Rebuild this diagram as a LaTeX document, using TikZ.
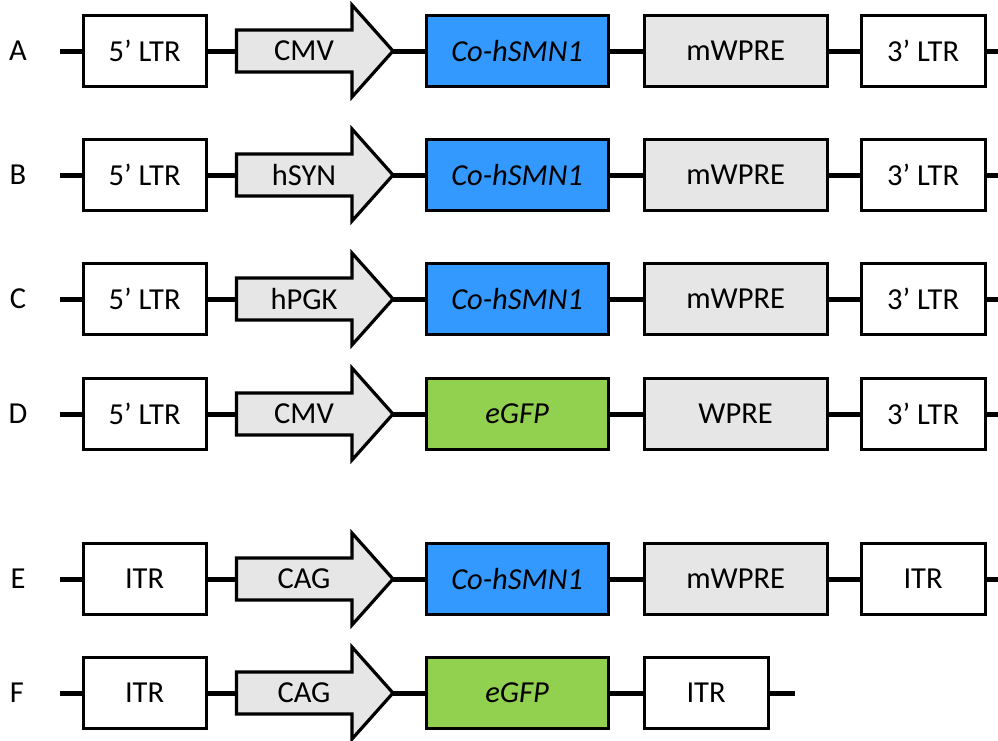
\documentclass[tikz,border=0pt]{standalone}
\usepackage{fontspec}
\setmainfont{Carlito}
\usetikzlibrary{calc}
\definecolor{geneblue}{HTML}{3399FF}
\definecolor{genegreen}{HTML}{92D050}
\definecolor{elemgrey}{HTML}{E7E6E6}
\begin{document}
\begin{tikzpicture}[x=1pt,y=-1pt,
  every node/.style={font=\fontsize{30.5}{36}\selectfont},
  box/.style={draw, line width=3.2pt, minimum height=71pt, inner sep=0pt, anchor=west},
  bb/.style={line width=5pt},
  prom/.style={draw, line width=3.2pt, fill=elemgrey, line join=miter}]
\useasboundingbox (0,0) rectangle (998,740);
\foreach \r/\y/\first/\prom/\gene/\gcol/\wp/\last in {
  A/51/5’ LTR/CMV/Co-hSMN1/geneblue/mWPRE/3’ LTR,
  B/175/5’ LTR/hSYN/Co-hSMN1/geneblue/mWPRE/3’ LTR,
  C/299/5’ LTR/hPGK/Co-hSMN1/geneblue/mWPRE/3’ LTR,
  D/414/5’ LTR/CMV/eGFP/genegreen/WPRE/3’ LTR,
  E/579/ITR/CAG/Co-hSMN1/geneblue/mWPRE/ITR}{
  \node (\r lab) at (18,\y) {\r};
  \coordinate (\r0) at (60,\y);
  \node[box, minimum width=123pt] (\r1) at (81.5,\y) {\first};
  \draw[prom] (236.5,\y-21) -- (352,\y-21) -- (352,\y-46) -- (393,\y)
    -- (352,\y+46) -- (352,\y+21) -- (236.5,\y+21) -- cycle;
  \coordinate (\r2w) at (236.5,\y);
  \coordinate (\r2e) at (393,\y);
  \node (\r2) at (304,\y) {\prom};
  \node[box, fill=\gcol, minimum width=182pt] (\r3) at (424.5,\y) {\textit{\gene}};
  \node[box, fill=elemgrey, minimum width=183pt] (\r4) at (642.5,\y) {\wp};
  \node[box, minimum width=124pt] (\r5) at (859.5,\y) {\last};
  \coordinate (\r6) at (1000,\y);
  \draw[bb] (\r0) -- (\r1);
  \draw[bb] (\r1) -- (\r2w);
  \draw[bb] (\r2e) -- (\r3);
  \draw[bb] (\r3) -- (\r4);
  \draw[bb] (\r4) -- (\r5);
  \draw[bb] (\r5) -- (\r6);
}
% Row F
\node (Flab) at (17,693) {F};
\coordinate (F0) at (60,693);
\node[box, minimum width=123pt] (F1) at (81.5,693) {ITR};
\draw[prom] (236.5,693-21) -- (352,693-21) -- (352,693-46) -- (393,693)
  -- (352,693+46) -- (352,693+21) -- (236.5,693+21) -- cycle;
\coordinate (F2w) at (236.5,693);
\coordinate (F2e) at (393,693);
\node (F2) at (304,693) {CAG};
\node[box, fill=genegreen, minimum width=182pt] (F3) at (424.5,693) {\textit{eGFP}};
\node[box, minimum width=124pt] (F4) at (642.5,693) {ITR};
\coordinate (F5) at (795,693);
\draw[bb] (F0) -- (F1);
\draw[bb] (F1) -- (F2w);
\draw[bb] (F2e) -- (F3);
\draw[bb] (F3) -- (F4);
\draw[bb] (F4) -- (F5);
\end{tikzpicture}
\end{document}
